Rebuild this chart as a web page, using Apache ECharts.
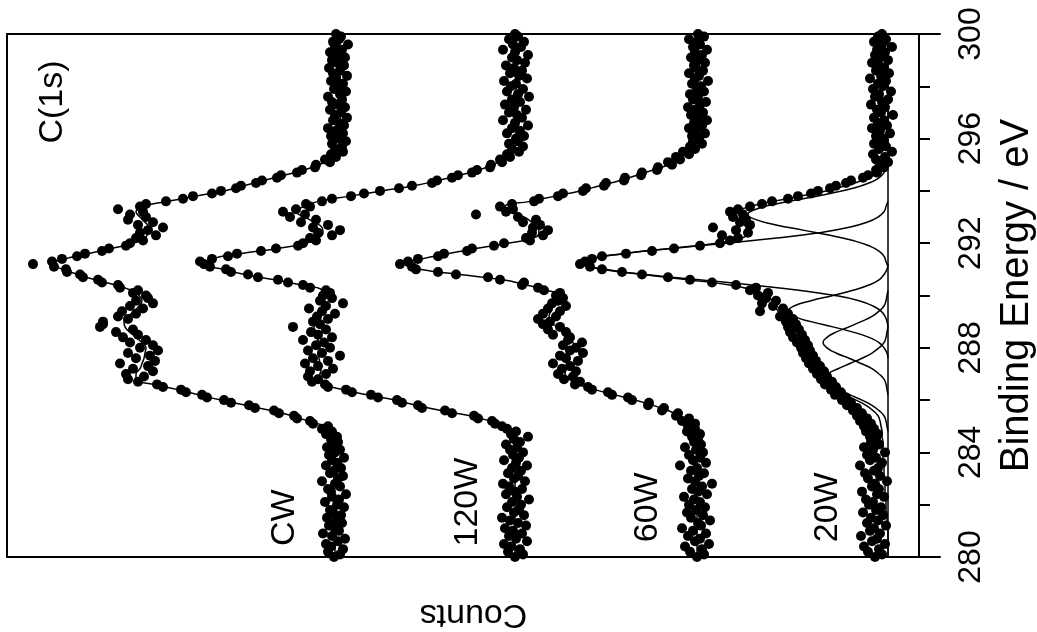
<!DOCTYPE html>
<html>
<head>
<meta charset="utf-8">
<title>C(1s)</title>
<script src="https://cdn.jsdelivr.net/npm/echarts@6/dist/echarts.min.js"></script>
<style>
  html, body { margin: 0; padding: 0; background: #fff; }
  #main { width: 1037px; height: 632px; }
</style>
</head>
<body>
<div id="main"></div>
<script>
// 能量网格 (eV)
var energyFine = [];
for (var i = 0; i <= 200; i++) energyFine.push(+(280 + i * 0.1).toFixed(1));
var energyCoarse = [];
for (var j = 0; j <= 100; j++) energyCoarse.push(+(280 + j * 0.2).toFixed(1));

// 测量点 (counts, 每 0.1 eV 一个)
var cwPoints = [554, 548, 560, 545, 557, 562, 550, 543, 556, 565,
  549, 553, 559, 546, 552, 561, 547, 555, 558, 544,
  551, 563, 549, 556, 542, 557, 560, 548, 553, 566,
  550, 545, 558, 554, 547, 562, 551, 556, 544, 559,
  553, 548, 561, 555, 550,
  557, 551, 562, 556, 566,
  560, 575, 578, 591, 594, 609, 614, 633, 639, 657,
  664, 681, 686, 702, 707, 725, 731, 750, 760, 744,
  762, 735, 755, 740, 768, 733, 752, 738, 760, 730,
  748, 735, 758, 742, 765, 750, 772, 755, 788, 785,
  785, 760, 770, 752, 766, 745, 758, 735, 752, 740,
  742, 755, 750, 768, 770, 786, 790, 805, 808, 821,
  822, 834, 855, 836, 826, 811, 803, 786, 779, 762,
  758, 745, 752, 732, 748, 740, 725, 750, 735, 760,
  742, 758, 745, 770, 748, 742, 722, 705, 695, 676,
  667, 652, 647, 632, 626, 611, 607, 591, 586, 573,
  572, 558, 563, 552, 557, 545, 553, 546, 556, 542,
  550, 557, 545, 552, 560, 544, 549, 555, 541, 553,
  547, 558, 543, 551, 556, 546, 560, 548, 542, 554,
  549, 545, 557, 552, 541, 555, 548, 559, 544, 551,
  556, 543, 550, 558, 546, 553, 540, 555, 549, 547,
  552];
var w120Points = [373, 365, 380, 368, 377, 384, 361, 372, 379, 366,
  375, 383, 362, 370, 378, 386, 364, 374, 369, 381,
  367, 376, 359, 371, 382, 373, 366, 379, 385, 363,
  374, 370, 380, 367, 376, 361, 372, 384, 369, 375,
  365, 378, 371, 382, 368, 374, 360, 377, 372,
  381,
  386, 393, 396, 410, 414, 436, 443, 466, 470, 486,
  491, 510, 517, 536, 542, 560, 563, 576, 570, 580,
  562, 578, 555, 570, 583, 560, 575, 548, 566, 580,
  558, 572, 564, 585, 556, 570, 577, 562, 595, 568,
  575, 560, 571, 553, 566, 579, 562, 545, 568, 556,
  565, 558, 562, 578, 585, 600, 610, 630, 640, 657,
  662, 678, 684, 688, 676, 660, 651, 627, 612, 590,
  585, 572, 578, 556, 570, 548, 575, 560, 587, 572,
  598, 583, 605, 592, 578, 582, 566, 556, 537, 524,
  508, 489, 476, 456, 451, 436, 430, 416, 411, 398,
  397, 386, 388, 378, 381, 369, 376, 365, 379, 370,
  372, 364, 381, 368, 376, 360, 373, 385, 366, 371,
  379, 362, 374, 383, 368, 376, 359, 370, 381, 365,
  377, 372, 384, 361, 369, 378, 366, 374, 382, 363,
  371, 376, 360, 373, 385, 367, 375, 364, 379, 370,
  373];
var w60Points = [191, 184, 198, 186, 203, 179, 193, 188, 200, 182,
  195, 206, 187, 190, 178, 197, 185, 201, 192, 183,
  199, 188, 194, 204, 181, 190, 196, 186, 176, 193,
  200, 189, 184, 197, 191, 208, 182, 195, 188, 199,
  185, 192, 203, 187, 194, 190,
  196, 188, 201, 193,
  200, 193, 206, 199, 212, 210, 226, 224, 240, 239,
  256, 260, 276, 280, 296, 300, 313, 308, 324, 315,
  330, 312, 326, 318, 335, 310, 322, 328, 305, 318,
  312, 325, 306, 320, 318, 335, 322, 340, 328, 345,
  338, 350, 332, 345, 328, 340, 322, 336, 330, 325,
  332, 328, 344, 350, 366, 364, 388, 400, 432, 450,
  472, 476, 488, 480, 470, 450, 444, 421, 416, 394,
  384, 358, 362, 345, 356, 340, 355, 348, 365, 352,
  370, 412, 382, 375, 388, 376, 354, 349, 330, 325,
  305, 302, 284, 282, 264, 263, 247, 246, 231, 230,
  216, 220, 208, 212, 199, 205, 193, 198, 186, 195,
  189, 196, 183, 192, 199, 186, 194, 181, 190, 197,
  185, 193, 200, 188, 182, 195, 190, 198, 184, 191,
  187, 196, 180, 193, 189, 199, 185, 192, 194, 183,
  190, 197, 186, 193, 181, 195, 188, 191, 199, 184,
  190];
var w20Points = [13, 6, 20, 9, 24, 3, 16, 11, 27, 8,
  18, 14, 2, 21, 10, 17, 5, 25, 12, 7,
  19, 15, 22, 4, 11, 26, 9, 16, 13, 1,
  20, 8, 23, 14, 10, 28, 6, 18, 12, 21,
  3, 15, 24, 9, 17, 12,
  18, 10, 22, 14,
  24, 17, 28, 21, 31, 26, 35, 31, 41, 37,
  46, 42, 53, 47, 57, 52, 63, 56, 67, 61,
  71, 64, 75, 68, 79, 72, 82, 75, 85, 78,
  87, 80, 91, 83, 95, 86, 98, 89, 100, 92,
  102, 95, 108, 100, 128, 105, 115, 126, 112, 122,
  130, 120, 138, 132, 152, 176, 198, 220, 246, 266,
  286, 298, 308, 303, 296, 286, 262, 236, 214, 188,
  168, 158, 150, 166, 140, 152, 175, 138, 148, 142,
  155, 145, 158, 150, 138, 126, 116, 100, 90, 77,
  70, 58, 52, 42, 37, 25, 20, 11, 12, 4,
  8, 0, 12, 3, 15, -4, 9, 2, 14, 6,
  5, 12, -2, 8, 16, 1, 10, 4, 14, -5,
  7, 11, 3, 17, 6, 0, 13, 9, -3, 15,
  5, 10, 2, 18, 7, -1, 12, 4, 9, 16,
  0, 8, 13, 3, 11, -4, 6, 14, 2, 10,
  6];

// 拟合曲线 (每 0.2 eV 一个)
var cwFit = [553, 553, 553, 553, 553, 553, 553, 553, 553, 554,
  554, 554, 554, 554, 554, 554, 554, 554, 555, 555, 555, 555, 555,
  556, 558, 563, 580, 596, 617, 642, 667, 689, 710,
  734, 752, 752, 748, 746, 744, 743, 742, 746, 752,
  758, 763, 764, 760, 754, 749, 746, 749, 757, 773,
  793, 810, 825, 836, 823, 800, 776, 755, 743, 740,
  739, 743, 748, 752, 746, 720, 692, 664, 644, 624,
  604, 584, 569, 559, 553, 550, 549,
  548, 548, 548, 548, 548, 548, 548, 548, 548, 548,
  548, 548, 548, 548, 548, 548, 548, 548, 548, 548, 548];
var w120Fit = [373, 373, 373, 373, 373, 373, 373, 373, 373, 373,
  373, 373, 373, 373, 373, 373, 373, 373, 373, 373, 373, 373, 373,
  373, 374, 383, 398, 418, 447, 472, 493, 520, 545,
  564, 571, 568, 567, 568, 569, 570, 568, 569, 571,
  572, 574, 572, 569, 566, 564, 563, 565, 566, 587,
  613, 643, 665, 682, 676, 648, 610, 582, 570, 565,
  566, 574, 583, 592, 584, 570, 538, 506, 474, 450,
  428, 409, 395, 385, 378, 374, 372,
  372, 372, 372, 372, 372, 372, 372, 372, 372, 372,
  372, 372, 372, 372, 372, 372, 372, 372, 372, 372, 372];
var w60Fit = [191, 191, 191, 191, 191, 191, 191, 191, 191, 191,
  191, 191, 191, 191, 191, 191, 191, 191, 191, 191, 191, 191, 191,
  192, 193, 196, 200, 208, 220, 235, 253, 273, 293,
  310, 319, 323, 322, 321, 320, 318, 313, 315, 318,
  323, 330, 338, 339, 337, 335, 332, 328, 341, 362,
  385, 428, 468, 483, 466, 440, 412, 380, 355, 349,
  350, 356, 364, 378, 383, 358, 333, 308, 288, 268,
  251, 235, 220, 212, 204, 198, 193,
  191, 191, 191, 191, 191, 191, 191, 191, 191, 191,
  191, 191, 191, 191, 191, 191, 191, 191, 191, 191, 191];
var w20Fit = [0, 0, 0, 0, 0, 0, 1, 1, 1, 2,
  2, 2, 3, 3, 3, 3, 4, 4, 4, 5, 5, 5, 5,
  6, 6, 7, 8, 10, 15, 22, 32, 44, 55,
  62, 66, 68, 68, 68, 70, 74, 78, 82, 86,
  90, 96, 101, 106, 110, 113, 116, 122, 134, 158,
  200, 245, 286, 304, 298, 266, 218, 172, 146, 140,
  142, 145, 148, 148, 138, 115, 88, 62, 42, 26,
  14, 7, 3, 1, 0, 0, 0,
  0, 0, 0, 0, 0, 0, 0, 0, 0, 0,
  0, 0, 0, 0, 0, 0, 0, 0, 0, 0, 0];

// 20W 分峰 [eV, counts]
var peakCF3 = [[291.1, 0], [291.3, 2], [291.5, 4], [291.7, 9], [291.9, 19], [292.1, 35], [292.3, 58], [292.5, 85], [292.7, 112], [292.9, 132], [293.1, 140], [293.3, 132], [293.5, 112], [293.7, 85], [293.9, 58], [294.1, 35], [294.3, 19], [294.5, 9], [294.7, 4], [294.9, 2], [295.1, 0]];
var peakCF2 = [[288.8, 0], [289.0, 1], [289.2, 3], [289.4, 7], [289.6, 15], [289.8, 29], [290.0, 53], [290.2, 89], [290.4, 136], [290.6, 189], [290.8, 242], [291.0, 283], [291.2, 302], [291.4, 296], [291.6, 264], [291.8, 216], [292.0, 162], [292.2, 111], [292.4, 69], [292.6, 40], [292.8, 21], [293.0, 10], [293.2, 4], [293.4, 2], [293.6, 0]];
var peakCF = [[287.6, 0], [287.8, 1], [288.0, 4], [288.2, 9], [288.4, 19], [288.6, 35], [288.8, 55], [289.0, 77], [289.2, 94], [289.4, 100], [289.6, 94], [289.8, 77], [290.0, 55], [290.2, 35], [290.4, 19], [290.6, 9], [290.8, 4], [291.0, 1], [291.2, 0]];
var peakCCF = [[286.2, 0], [286.4, 1], [286.6, 2], [286.8, 4], [287.0, 9], [287.2, 16], [287.4, 27], [287.6, 39], [287.8, 52], [288.0, 61], [288.2, 65], [288.4, 61], [288.6, 52], [288.8, 39], [289.0, 27], [289.2, 16], [289.4, 9], [289.6, 4], [289.8, 2], [290.0, 1], [290.2, 0]];
var peakCC = [[284.8, 0], [285.0, 1], [285.2, 2], [285.4, 4], [285.6, 9], [285.8, 16], [286.0, 26], [286.2, 38], [286.4, 50], [286.6, 60], [286.8, 63], [287.0, 60], [287.2, 50], [287.4, 38], [287.6, 26], [287.8, 16], [288.0, 9], [288.2, 4], [288.4, 2], [288.6, 1], [288.8, 0]];
var baseLine = [[280, 0], [300, 0]];

// 文字标注
var labelNames = ['CW', '120W', '60W', '20W', 'C(1s)'];
var labelEnergy = [281.5, 282.1, 281.9, 281.9, 297.4];
var labelCounts = [603, 420, 240, 60, 835];

var fontName = "'Liberation Sans', Arial, Helvetica, sans-serif";

// 转换为 [counts, energy]
function toXY(values, energy) {
  var out = [];
  for (var k = 0; k < values.length; k++) out.push([values[k], energy[k]]);
  return out;
}
function swap(pairs) {
  return pairs.map(function (p) { return [p[1], p[0]]; });
}

function lineSeries(data, width) {
  return {
    type: 'line', data: data, smooth: true, showSymbol: false, symbol: 'none',
    lineStyle: { color: '#000', width: width, opacity: 1 }, z: 2, silent: true
  };
}
function dotSeries(data) {
  return {
    type: 'scatter', data: data, symbol: 'circle', symbolSize: 10,
    itemStyle: { color: '#000', opacity: 1 }, z: 3, silent: true
  };
}

var labelData = [];
for (var m = 0; m < labelNames.length; m++) {
  labelData.push({ name: labelNames[m], value: [labelCounts[m], labelEnergy[m]] });
}

var series = [
  lineSeries(swap(baseLine), 1.5),
  lineSeries(toXY(cwFit, energyCoarse), 1.5),
  lineSeries(toXY(w120Fit, energyCoarse), 1.5),
  lineSeries(toXY(w60Fit, energyCoarse), 1.5),
  lineSeries(toXY(w20Fit, energyCoarse), 1.5),
  lineSeries(swap(peakCF3), 1.5),
  lineSeries(swap(peakCF2), 1.5),
  lineSeries(swap(peakCF), 1.5),
  lineSeries(swap(peakCCF), 1.5),
  lineSeries(swap(peakCC), 1.5),
  dotSeries(toXY(cwPoints, energyFine)),
  dotSeries(toXY(w120Points, energyFine)),
  dotSeries(toXY(w60Points, energyFine)),
  dotSeries(toXY(w20Points, energyFine)),
  {
    type: 'scatter', data: labelData, symbolSize: 0, z: 4, silent: true,
    itemStyle: { opacity: 1 },
    label: {
      show: true, position: 'inside', rotate: 90, formatter: '{b}',
      fontSize: 34, color: '#000', opacity: 1, fontFamily: fontName
    }
  }
];

var axisLineStyle = { color: '#000', width: 2 };
var chart = echarts.init(document.getElementById('main'), null, { renderer: 'canvas' });
chart.setOption({
  animation: false,
  backgroundColor: '#fff',
  grid: { left: 7, right: 97, top: 34, bottom: 75, containLabel: false, outerBoundsMode: 'none' },
  xAxis: [{
    type: 'value', min: -52, max: 881, inverse: true, position: 'bottom',
    axisLine: { show: true, onZero: false, lineStyle: axisLineStyle },
    axisTick: { show: false }, axisLabel: { show: false }, splitLine: { show: false },
    name: 'Counts', nameLocation: 'middle', nameRotate: 180, nameGap: 40,
    nameTextStyle: { fontSize: 34, color: '#000', fontFamily: fontName }
  }, {
    type: 'value', min: -52, max: 881, inverse: true, position: 'top',
    axisLine: { show: true, onZero: false, lineStyle: axisLineStyle },
    axisTick: { show: false }, axisLabel: { show: false }, splitLine: { show: false }
  }],
  yAxis: [{
    type: 'value', min: 280, max: 300, interval: 4, position: 'right', offset: -21,
    axisLine: { show: true, onZero: false, lineStyle: axisLineStyle },
    axisTick: { show: true, length: 11, lineStyle: { color: '#000', width: 2 } },
    minorTick: { show: true, splitNumber: 2, length: 11, lineStyle: { color: '#000', width: 2 } },
    axisLabel: { rotate: 90, fontSize: 32, margin: 36, color: '#000', fontFamily: fontName },
    splitLine: { show: false },
    name: 'Binding Energy / eV', nameLocation: 'middle', nameRotate: 90, nameGap: 78,
    nameTextStyle: { fontSize: 40, color: '#000', fontFamily: fontName }
  }, {
    type: 'value', min: 280, max: 300, position: 'left',
    axisLine: { show: true, onZero: false, lineStyle: axisLineStyle },
    axisTick: { show: false }, axisLabel: { show: false }, splitLine: { show: false }
  }],
  series: series
});
</script>
</body>
</html>
